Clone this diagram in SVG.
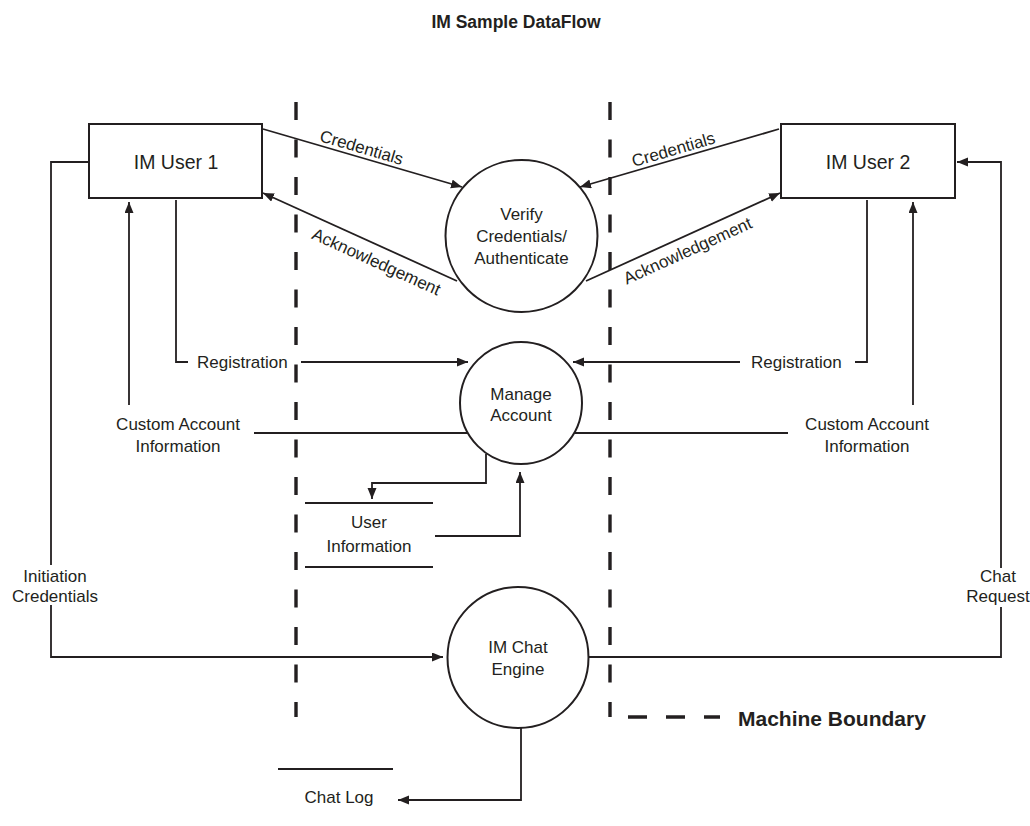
<svg xmlns="http://www.w3.org/2000/svg" width="1030" height="826" viewBox="0 0 1030 826">
<style>
text{font-family:"Liberation Sans",Arial,sans-serif;fill:#231f20;font-size:17px}
.c{text-anchor:middle}
.box{fill:#fff;stroke:#231f20;stroke-width:2}
.proc{fill:#fff;stroke:#231f20;stroke-width:2}
.ln{fill:none;stroke:#231f20;stroke-width:1.8}
.arr{marker-end:url(#ah)}
.bnd{stroke:#231f20;stroke-width:3.4;stroke-dasharray:18 19.5;fill:none}
.store{stroke:#231f20;stroke-width:1.8}
</style>
<defs>
<marker id="ah" markerUnits="userSpaceOnUse" markerWidth="12" markerHeight="10" refX="11" refY="4.5" orient="auto">
<path d="M0,0 L11,4.5 L0,9 z" fill="#231f20"/>
</marker>
</defs>
<rect width="1030" height="826" fill="#fff"/>
<text class="c" x="516" y="28" style="font-weight:bold;font-size:17.5px">IM Sample DataFlow</text>

<g id="boundaries">
<line class="bnd" x1="296" y1="102" x2="296" y2="717"/>
<line class="bnd" x1="610" y1="102" x2="610" y2="717"/>
</g>

<g id="legend">
<line class="bnd" x1="628" y1="717" x2="720" y2="717" style="stroke-dasharray:19 19"/>
<text x="738" y="726" style="font-weight:bold;font-size:21px">Machine Boundary</text>
</g>

<g id="connectors">
<line class="ln arr" x1="263" y1="129" x2="462" y2="187"/>
<line class="ln arr" x1="457" y1="281" x2="263" y2="193"/>
<line class="ln arr" x1="779" y1="129" x2="580" y2="187"/>
<line class="ln arr" x1="586" y1="281" x2="780" y2="193"/>
<polyline class="ln" points="176,200 176,362 188,362"/>
<line class="ln arr" x1="301" y1="362" x2="468" y2="362"/>
<polyline class="ln" points="867,200 867,362 855,362"/>
<line class="ln arr" x1="740" y1="362" x2="573" y2="362"/>
<line class="ln" x1="468" y1="433" x2="254" y2="433"/>
<line class="ln arr" x1="129" y1="405" x2="129" y2="202"/>
<line class="ln" x1="574" y1="433" x2="788" y2="433"/>
<line class="ln arr" x1="913" y1="405" x2="913" y2="202"/>
<polyline class="ln arr" points="486,454 486,483 372,483 372,499"/>
<polyline class="ln arr" points="435,536 520,536 520,472"/>
<polyline class="ln" points="89,162 51,162 51,565"/>
<polyline class="ln arr" points="51,605 51,657 443,657"/>
<polyline class="ln" points="589,657 1001,657 1001,607"/>
<polyline class="ln arr" points="1001,568 1001,162 957,162"/>
<polyline class="ln arr" points="521,728 521,800 398,800"/>

<text class="c" x="360" y="153" transform="rotate(16.3 360 153)">Credentials</text>
<text class="c" x="374" y="267" transform="rotate(24.4 374 267)">Acknowledgement</text>
<text class="c" x="675" y="155" transform="rotate(-16.3 675 155)">Credentials</text>
<text class="c" x="690" y="256" transform="rotate(-24.4 690 256)">Acknowledgement</text>
<text x="197" y="368">Registration</text>
<text x="751" y="368">Registration</text>
<text class="c" x="178" y="430">Custom Account</text>
<text class="c" x="178" y="452">Information</text>
<text class="c" x="867" y="430">Custom Account</text>
<text class="c" x="867" y="452">Information</text>
<text class="c" x="55" y="582">Initiation</text>
<text class="c" x="55" y="602">Credentials</text>
<text class="c" x="998" y="582">Chat</text>
<text class="c" x="998" y="602">Request</text>
</g>

<g id="user1">
<rect class="box" x="89" y="124" width="173" height="74"/>
<text class="c" x="176" y="169" style="font-size:19.5px">IM User 1</text>
</g>

<g id="user2">
<rect class="box" x="781" y="124" width="174" height="74"/>
<text class="c" x="868" y="169" style="font-size:19.5px">IM User 2</text>
</g>

<g id="verify">
<circle class="proc" cx="521.5" cy="236" r="76"/>
<text class="c" x="521.5" y="220">Verify</text>
<text class="c" x="521.5" y="242">Credentials/</text>
<text class="c" x="521.5" y="264">Authenticate</text>
</g>

<g id="manage">
<circle class="proc" cx="521" cy="403" r="61"/>
<text class="c" x="521" y="400">Manage</text>
<text class="c" x="521" y="421">Account</text>
</g>

<g id="chatengine">
<circle class="proc" cx="518" cy="657.5" r="70.5"/>
<text class="c" x="518" y="653">IM Chat</text>
<text class="c" x="518" y="675">Engine</text>
</g>

<g id="userinfo">
<line class="store" x1="305" y1="503" x2="433" y2="503"/>
<line class="store" x1="305" y1="567" x2="433" y2="567"/>
<text class="c" x="369" y="528">User</text>
<text class="c" x="369" y="552">Information</text>
</g>

<g id="chatlog">
<line class="store" x1="278" y1="769" x2="393" y2="769"/>
<text class="c" x="339" y="803">Chat Log</text>
</g>
</svg>
